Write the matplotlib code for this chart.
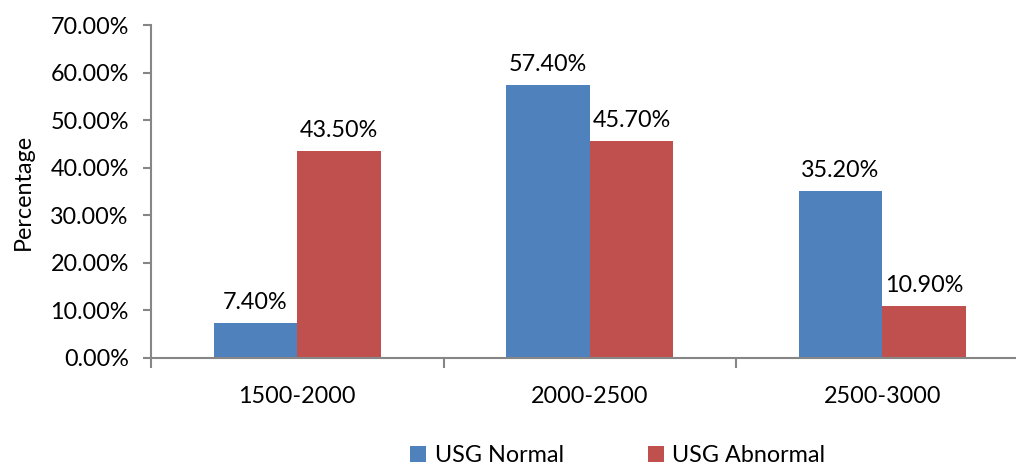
import matplotlib
matplotlib.use("Agg")
import matplotlib.pyplot as plt
import numpy as np

categories = ["1500-2000", "2000-2500", "2500-3000"]
usg_normal = [7.40, 57.40, 35.20]
usg_abnormal = [43.50, 45.70, 10.90]
series_names = ["USG Normal", "USG Abnormal"]
y_ticks = [0, 10, 20, 30, 40, 50, 60, 70]

plt.rcParams["font.family"] = ["Lato", "DejaVu Sans"]
FS = 16.8
AXIS_GREY = "#868686"
BLUE = "#4F81BD"
RED = "#C0504D"

fig = plt.figure(figsize=(10.16, 4.68), dpi=100)
ax = fig.add_axes([151 / 1016, 1 - 358 / 468, 877.5 / 1016, 333 / 468])

x = np.arange(len(categories))
w = 0.2855
b1 = ax.bar(x - w / 2, usg_normal, w, color=BLUE, label=series_names[0])
b2 = ax.bar(x + w / 2, usg_abnormal, w, color=RED, label=series_names[1])

for bars, vals in ((b1, usg_normal), (b2, usg_abnormal)):
    for rect, v in zip(bars, vals):
        ax.annotate(f"{v:.2f}%", (rect.get_x() + rect.get_width() / 2, v),
                    xytext=(0, 7), textcoords="offset points",
                    ha="center", va="bottom", fontsize=FS, color="black")

ax.set_xlim(-0.5, len(categories) - 0.5)
ax.set_ylim(0, 70)
ax.set_yticks(y_ticks)
ax.set_yticklabels([f"{t:.2f}%" for t in y_ticks], fontsize=FS)
ax.set_xticks(x)
ax.set_xticklabels(categories, fontsize=FS)
ax.tick_params(axis="x", length=0, pad=20)
ax.tick_params(axis="y", length=6, width=1.5, color=AXIS_GREY, pad=10)

# category separator ticks below the x axis
ax.set_xticks(np.arange(-0.5, len(categories) + 0.5, 1), minor=True)
ax.tick_params(axis="x", which="minor", length=7, width=1.5, color=AXIS_GREY)

for side in ("top", "right"):
    ax.spines[side].set_visible(False)
for side in ("left", "bottom"):
    ax.spines[side].set_color(AXIS_GREY)
    ax.spines[side].set_linewidth(1.5)

ax.set_ylabel("Percentage", fontsize=FS, labelpad=12)

fig.legend(handles=[b1, b2], labels=series_names, loc="center",
           bbox_to_anchor=(0.608, 0.026), ncol=2, frameon=False,
           fontsize=FS, handlelength=0.7, handleheight=0.7,
           columnspacing=3.6, handletextpad=0.35, borderpad=0)

fig.savefig("out.png", dpi=100)
